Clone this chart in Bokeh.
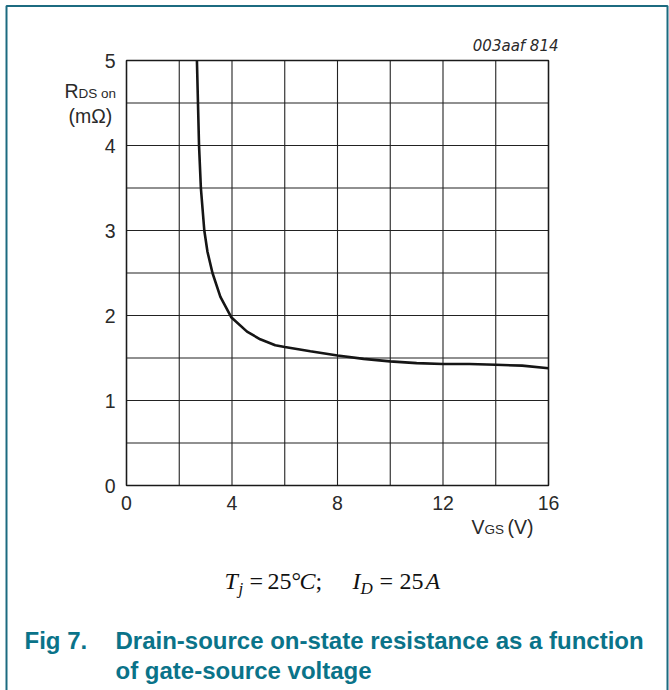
from bokeh.plotting import figure
from bokeh.models import Range1d, FixedTicker, Label, LinearAxis
from bokeh.embed import file_html
from bokeh.resources import INLINE

# ---- data ----
vgs = [2.67, 2.71, 2.75, 2.82, 2.95, 3.07, 3.26, 3.56, 3.97, 4.57, 5.07, 5.64,
       6.0, 6.97, 8.0, 8.99, 9.99, 11.0, 12.0, 13.0, 14.0, 15.0, 16.0]
rdson = [5.0, 4.5, 4.0, 3.5, 3.0, 2.75, 2.5, 2.22, 1.98, 1.81, 1.72, 1.65,
         1.63, 1.58, 1.53, 1.49, 1.46, 1.44, 1.43, 1.43, 1.42, 1.41, 1.38]
x_label_ticks = [0, 4, 8, 12, 16]
y_label_ticks = [0, 1, 2, 3, 4, 5]
x_grid_ticks = [0, 2, 4, 6, 8, 10, 12, 14, 16]
y_grid_ticks = [0, 0.5, 1, 1.5, 2, 2.5, 3, 3.5, 4, 4.5, 5]

W, H = 669, 690
# plot-area placement on the canvas (px)
PL, PR, PT, PB = 126, 548, 60, 485
sx = (PR - PL) / 16.0
sy = (PB - PT) / 5.0

def X(px):
    return (px - PL) / sx

def Y(py):
    return (PB - py) / sy

p = figure(width=W, height=H, output_backend="svg", toolbar_location=None,
           x_range=Range1d(X(0), X(W)), y_range=Range1d(Y(H), Y(0)),
           x_axis_type=None, y_axis_type=None, min_border=0)
p.background_fill_color = "white"
p.border_fill_color = "white"
p.outline_line_color = None
p.xgrid.visible = False
p.ygrid.visible = False

# axes (tick labels only) fixed at the plot-area edges
xa = LinearAxis(fixed_location=0, ticker=FixedTicker(ticks=x_label_ticks))
ya = LinearAxis(fixed_location=0, ticker=FixedTicker(ticks=y_label_ticks))
for ax in (xa, ya):
    ax.axis_line_color = None
    ax.major_tick_line_color = None
    ax.minor_tick_line_color = None
    ax.major_tick_out = 0
    ax.major_tick_in = 0
    ax.major_label_text_font = "Liberation Sans"
    ax.major_label_text_font_size = "19.5px"
    ax.major_label_text_color = "#2a2a2a"
xa.major_label_standoff = 10
ya.major_label_standoff = 11
p.add_layout(xa, "below")
p.add_layout(ya, "left")

# grid
y_lo, y_hi = y_grid_ticks[0], y_grid_ticks[-1]
x_lo, x_hi = x_grid_ticks[0], x_grid_ticks[-1]
p.segment(x0=x_grid_ticks, y0=[y_lo] * len(x_grid_ticks),
          x1=x_grid_ticks, y1=[y_hi] * len(x_grid_ticks),
          line_color="#222222", line_width=1.1)
p.segment(x0=[x_lo] * len(y_grid_ticks), y0=y_grid_ticks,
          x1=[x_hi] * len(y_grid_ticks), y1=y_grid_ticks,
          line_color="#222222", line_width=1.1)
p.quad(left=[x_lo], right=[x_hi], bottom=[y_lo], top=[y_hi],
       fill_color=None, line_color="#1a1a1a", line_width=1.5)

# curve
p.line(vgs, rdson, line_color="#151515", line_width=2.6)

def lab(text, px, py, size, font="Liberation Sans", style="normal",
        color="#2a2a2a", align="left"):
    # py is the visual centre of the capitals
    p.add_layout(Label(x=X(px), y=Y(py), text=text, text_font=font,
                       text_font_size=size, text_font_style=style,
                       text_color=color, text_align=align,
                       text_baseline="middle"))

# axis titles
lab("R", 64, 90, "19.5px")
lab("DS on", 78, 92.5, "13.5px")
lab("(mΩ)", 68, 115, "19.5px")
lab("V", 471, 526, "19.5px")
lab("GS", 484, 528.5, "13.5px")
lab("(V)", 507, 526, "19.5px")

# figure id
lab("003aaf 814", 558, 45.5, "15px", font="DejaVu Sans", style="italic",
    align="right")

# condition formula
serif = "Liberation Serif"
ink = "#111111"
fs, fsub = "24px", "17px"
cy, sy_ = 580.5, 588
lab("T", 224, cy, fs, font=serif, style="italic", color=ink)
lab("j", 238, sy_, fsub, font=serif, style="italic", color=ink)
lab("=", 249, cy, fs, font=serif, color=ink)
lab("25", 267, cy, fs, font=serif, color=ink)
lab("°", 291, cy, fs, font=serif, color=ink)
lab("C", 299, cy, fs, font=serif, style="italic", color=ink)
lab(";", 315, cy, fs, font=serif, color=ink)
lab("I", 352, cy, fs, font=serif, style="italic", color=ink)
lab("D", 360, sy_, fsub, font=serif, style="italic", color=ink)
lab("=", 379, cy, fs, font=serif, color=ink)
lab("25", 399, cy, fs, font=serif, color=ink)
lab("A", 425, cy, fs, font=serif, style="italic", color=ink)

# caption
teal = "#0a7389"
lab("Fig 7.", 24, 639.5, "24px", style="bold", color=teal)
lab("Drain-source on-state resistance as a function", 115, 639.5, "24px",
    style="bold", color=teal)
lab("of gate-source voltage", 115, 669.5, "24px", style="bold", color=teal)

# teal page frame
border = "#1c6b80"
p.line([X(6), X(6), X(667), X(667)], [Y(H + 5), Y(5.5), Y(5.5), Y(H + 5)],
       line_color=border, line_width=2)

open("out.html", "w").write(file_html(p, INLINE))
